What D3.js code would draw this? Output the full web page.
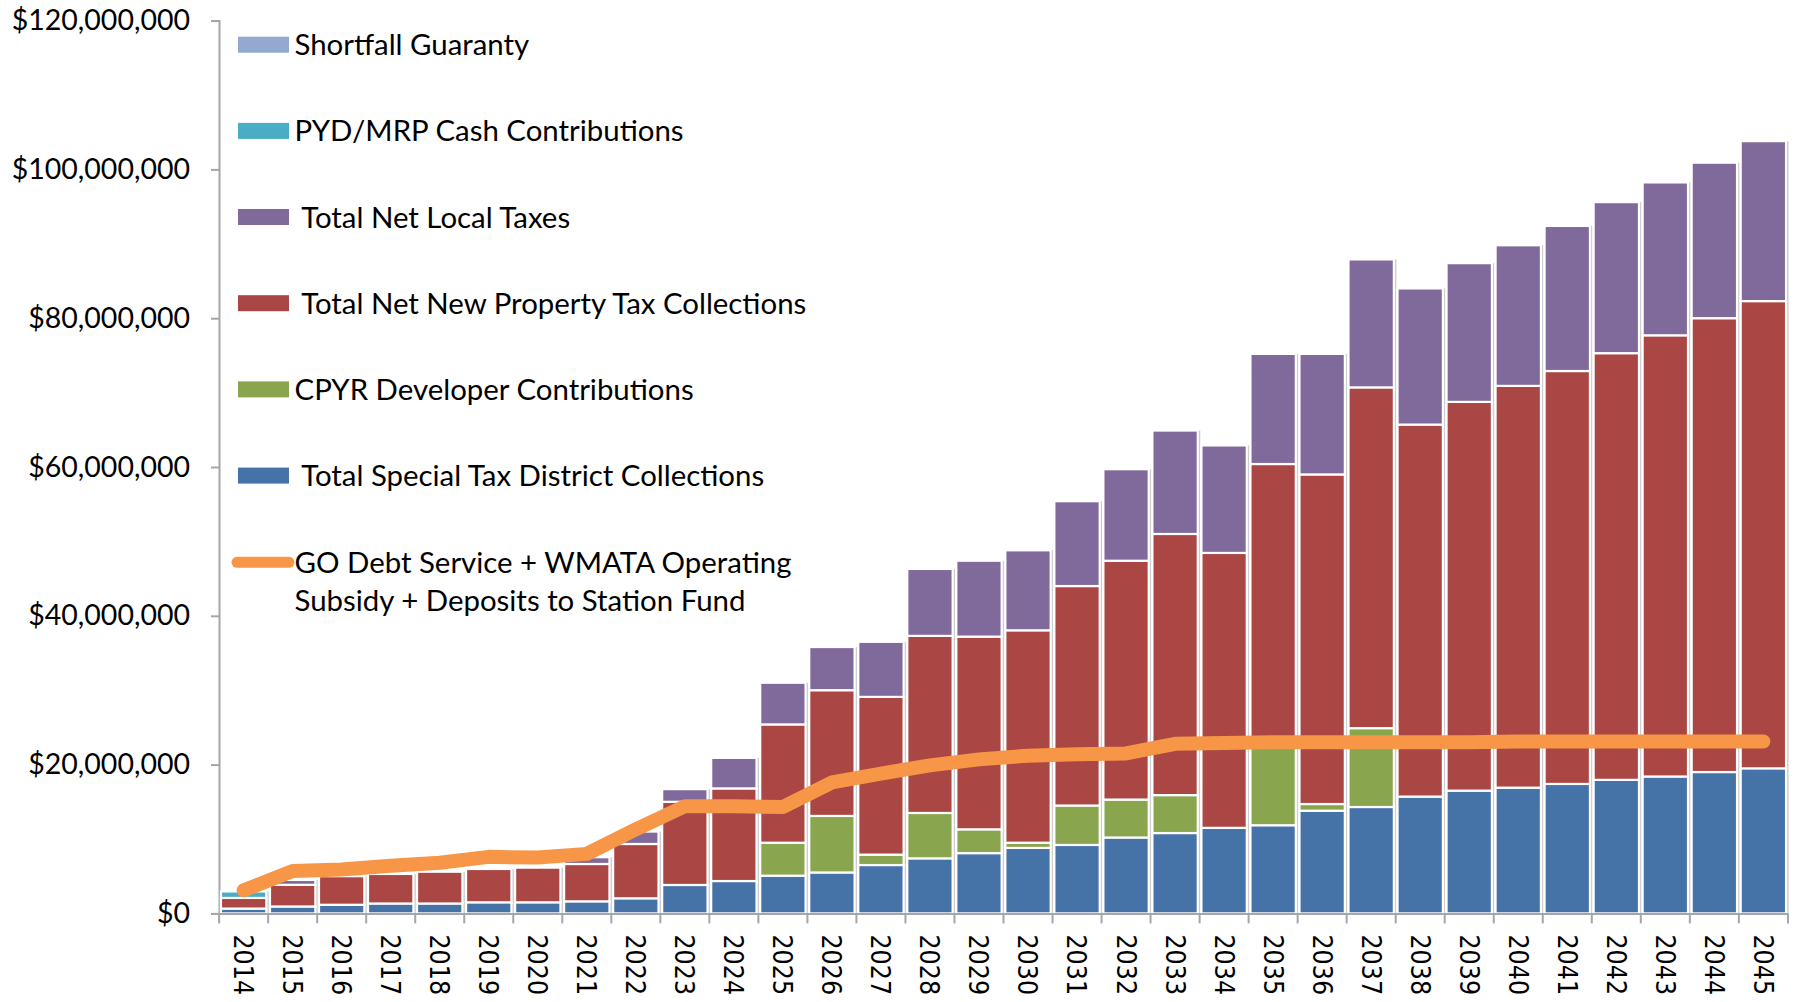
<!DOCTYPE html>
<html><head><meta charset="utf-8">
<script src="https://cdn.jsdelivr.net/npm/d3@7"></script>
<style>html,body{margin:0;padding:0;background:#fff;} svg{display:block;}</style>
</head><body>
<svg id="chart" width="1797" height="1002"></svg>
<script>
// ---- data (values in $ millions) ----
const years = ["2014","2015","2016","2017","2018","2019","2020","2021","2022","2023","2024","2025","2026","2027","2028","2029","2030","2031","2032","2033","2034","2035","2036","2037","2038","2039","2040","2041","2042","2043","2044","2045"];
const specialTax  = [0.65,0.93,1.16,1.33,1.33,1.49,1.49,1.62,2.03,3.82,4.35,5.07,5.5,6.5,7.4,8.1,8.8,9.2,10.2,10.8,11.5,11.85,13.8,14.3,15.7,16.5,16.9,17.4,17.95,18.4,19.0,19.5];
const cpyr        = [0,0,0,0,0,0,0,0,0,0,0,4.43,7.6,1.4,6.1,3.2,0.7,5.3,5.1,5.1,0,10.65,0.9,10.6,0,0,0,0,0,0,0,0];
const propertyTax = [1.43,2.91,3.84,3.97,4.27,4.48,4.66,5.02,7.3,11.18,12.45,15.9,16.9,21.2,23.8,25.9,28.55,29.5,32.1,35.1,36.95,37.9,44.3,45.8,50.0,52.25,54.0,55.5,57.35,59.3,61.0,62.8];
const localTaxes  = [0,0.66,0,0,0,0,0,0.91,1.67,1.7,4.1,5.6,5.8,7.4,9.0,10.2,10.75,11.4,12.3,13.9,14.45,14.8,16.2,17.2,18.3,18.65,18.9,19.5,20.3,20.55,20.9,21.5];
const pydMrp      = [0.87,0,0,0,0,0,0,0,0,0,0,0,0,0,0,0,0,0,0,0,0,0,0,0,0,0,0,0,0,0,0,0];
const shortfall   = [0,0,0,0,0,0,0,0,0,0,0,0,0,0,0,0,0,0,0,0,0,0,0,0,0,0,0,0,0,0,0,0];
const goDebt      = [3.1,5.7,5.9,6.4,6.8,7.6,7.5,8.0,11.3,14.4,14.4,14.3,17.6,18.8,19.9,20.7,21.2,21.4,21.5,22.8,22.9,23.0,23.0,23.0,23.0,23.0,23.1,23.1,23.1,23.1,23.1,23.1];
const yTicks = [0,20,40,60,80,100,120];

const stackKeys   = ["special","cpyr","property","local","pyd","shortfall"];
const stackColors = ["#4572A7","#89A54E","#AA4643","#80699B","#4BACC6","#93A9CF"];
const legendNames = ["Shortfall Guaranty","PYD/MRP Cash Contributions"," Total Net Local Taxes"," Total Net New Property Tax Collections","CPYR Developer Contributions"," Total Special Tax District Collections"];
const legendColors = ["#93A9CF","#4BACC6","#80699B","#AA4643","#89A54E","#4572A7"];
const lineName = ["GO Debt Service + WMATA Operating","Subsidy + Deposits to Station Fund"];
const lineColor = "#F79646";

// ---- build table ----
const table = years.map((y,i)=>({year:y, special:specialTax[i], cpyr:cpyr[i], property:propertyTax[i], local:localTaxes[i], pyd:pydMrp[i], shortfall:shortfall[i], line:goDebt[i]}));

const svg = d3.select("#chart");
const X0 = 219, X1 = 1788, YT = 20.6, YB = 913.4;

const x = d3.scaleBand().domain(years).range([X0, X1]).paddingInner(0.075).paddingOuter(0.04);
const y = d3.scaleLinear().domain([0,120]).range([YB, YT]);

const labelFont = "Lato, 'Open Sans', sans-serif";
const axisColor = "#a6a6a6";

// y axis
const yAxis = d3.axisLeft(y).tickValues(yTicks).tickSize(8).tickPadding(21)
  .tickFormat(d => "$" + d3.format(",")(d*1e6));
const gy = svg.append("g").attr("transform",`translate(${X0},0)`).call(yAxis);
gy.select(".domain").attr("stroke",axisColor).attr("stroke-width",2);
gy.selectAll(".tick line").attr("stroke",axisColor).attr("stroke-width",2);
gy.selectAll(".tick text").attr("font-family",labelFont).attr("font-size",28.5).attr("fill","#000");

// bars
const stacked = d3.stack().keys(stackKeys)(table);
const shadowG = svg.append("g");
shadowG.selectAll("rect").data(table).join("rect")
  .attr("x", d => x(d.year) + 2.5)
  .attr("width", x.bandwidth())
  .attr("y", d => y(d.special+d.cpyr+d.property+d.local+d.pyd+d.shortfall))
  .attr("height", d => YB - y(d.special+d.cpyr+d.property+d.local+d.pyd+d.shortfall))
  .attr("fill", "#cdcdcd");

svg.append("g").selectAll("g").data(stacked).join("g")
  .attr("fill", (d,i) => stackColors[i])
  .selectAll("rect").data(d => d.filter(s => s[1]-s[0] > 0)).join("rect")
  .attr("x", d => x(d.data.year))
  .attr("width", x.bandwidth())
  .attr("y", d => y(d[1]))
  .attr("height", d => y(d[0]) - y(d[1]))
  .attr("stroke", "#fff").attr("stroke-width", 2.2);

// x axis
const xAxis = d3.axisBottom(x).tickSize(0).tickFormat("");
const gx = svg.append("g").attr("transform",`translate(0,${YB})`).call(xAxis);
gx.select(".domain").attr("stroke",axisColor).attr("stroke-width",2);
const step = x.step();
const bounds = years.map((d,i)=> x(d) - x.paddingInner()*step/2).concat([X1]);
svg.append("g").selectAll("line").data(bounds).join("line")
  .attr("x1", d=>d).attr("x2", d=>d).attr("y1", YB).attr("y2", YB+10)
  .attr("stroke", axisColor).attr("stroke-width", 2);
svg.append("g").selectAll("text").data(years).join("text")
  .attr("transform", d => `translate(${x(d)+x.bandwidth()/2},${YB+21}) rotate(90)`)
  .attr("dy","0.36em")
  .attr("font-family","'DejaVu Sans Condensed','DejaVu Sans',sans-serif")
  .attr("font-size",26.5).attr("fill","#000")
  .text(d=>d);

// line
const line = d3.line().x(d => x(d.year)+x.bandwidth()/2).y(d => y(d.line));
svg.append("path").datum(table).attr("d", line)
  .attr("fill","none").attr("stroke",lineColor).attr("stroke-width",14)
  .attr("stroke-linecap","round").attr("stroke-linejoin","round");

// legend
const legY = [44.7,130.9,217,303.2,389.4,475.6];
const legFont = 29.4;
const lg = svg.append("g");
legendNames.forEach((n,i)=>{
  lg.append("rect").attr("x",238).attr("y",legY[i]-8).attr("width",51).attr("height",16).attr("fill",legendColors[i]);
  lg.append("text").attr("x",294.5).attr("y",legY[i]).attr("dy","0.36em")
    .attr("font-family",labelFont).attr("font-size",legFont).attr("fill","#000")
    .attr("xml:space","preserve").style("white-space","pre").text(n);
});
lg.append("line").attr("x1",237).attr("x2",289).attr("y1",562.3).attr("y2",562.3)
  .attr("stroke",lineColor).attr("stroke-width",11).attr("stroke-linecap","round");
lineName.forEach((t,i)=>{
  lg.append("text").attr("x",294.5).attr("y",562.3 + i*38.5).attr("dy","0.36em")
    .attr("font-family",labelFont).attr("font-size",legFont).attr("fill","#000").text(t);
});
</script>
</body></html>
